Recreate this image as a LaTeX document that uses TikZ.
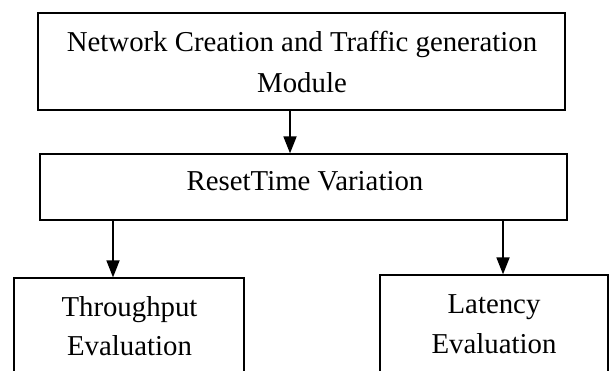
\documentclass[tikz,border=0pt]{standalone}
\usepackage{fontspec}
\setmainfont{Liberation Serif}
\usetikzlibrary{arrows.meta}
\begin{document}
\begin{tikzpicture}[x=1pt,y=-1pt,
  box/.style={draw=black,line width=1.3pt,rectangle,inner sep=0pt},
  lbl/.style={anchor=base,inner sep=0pt,font=\fontsize{28.8}{28.8}\selectfont},
  arr/.style={line width=1.8pt,-{Triangle[length=17pt,width=13pt]}}]
\useasboundingbox (0,0) rectangle (609,370);
\fill[white] (0,0) rectangle (609,370);
\begin{scope}
\clip (0,0) rectangle (609,370);
\node[box,minimum width=527pt,minimum height=97pt] (b1) at (301.5,61.5) {};
\node[box,minimum width=527pt,minimum height=66pt] (b2) at (303.5,187) {};
\node[box,minimum width=230pt,minimum height=140pt] (b3) at (129,348) {};
\node[box,minimum width=228pt,minimum height=140pt] (b4) at (494,345) {};
\end{scope}
\node[lbl] (t1a) at (302,51) {Network Creation and Traffic generation};
\node[lbl] (t1b) at (302,92) {Module};
\node[lbl] (t2) at (305,190) {ResetTime Variation};
\node[lbl] (t3a) at (129.5,316) {Throughput};
\node[lbl] (t3b) at (129.5,355) {Evaluation};
\node[lbl] (t4a) at (494,313) {Latency};
\node[lbl] (t4b) at (494,353) {Evaluation};
\coordinate (xa) at (290,0);
\coordinate (xb) at (113,0);
\coordinate (xc) at (503,0);
\draw[arr] (b1.south -| xa) -- (b2.north -| xa);
\draw[arr] (b2.south -| xb) -- (b3.north -| xb);
\draw[arr] (b2.south -| xc) -- (b4.north -| xc);
\end{tikzpicture}
\end{document}
